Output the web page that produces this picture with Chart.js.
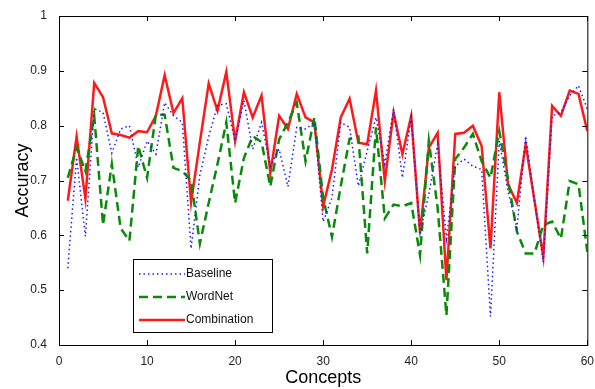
<!DOCTYPE html>
<html>
<head>
<meta charset="utf-8">
<script src="https://cdn.jsdelivr.net/npm/chart.js@4"></script>
<style>
  body { margin: 0; background: #fff; }
  #wrap { width: 595px; height: 389px; }
</style>
</head>
<body>
<div id="wrap"><canvas id="chart"></canvas></div>
<script>
// concept index on the x axis
const concepts = [1, 2, 3, 4, 5, 6, 7, 8, 9, 10, 11, 12, 13, 14, 15, 16, 17, 18, 19, 20,
  21, 22, 23, 24, 25, 26, 27, 28, 29, 30, 31, 32, 33, 34, 35, 36, 37, 38, 39, 40,
  41, 42, 43, 44, 45, 46, 47, 48, 49, 50, 51, 52, 53, 54, 55, 56, 57, 58, 59, 60];

const baseline = [0.54, 0.742, 0.598, 0.831, 0.824, 0.75, 0.794, 0.80, 0.724, 0.772,
  0.748, 0.842, 0.818, 0.806, 0.576, 0.71, 0.78, 0.837, 0.84, 0.772,
  0.846, 0.757, 0.806, 0.726, 0.757, 0.689, 0.797, 0.794, 0.806, 0.625,
  0.668, 0.806, 0.797, 0.69, 0.754, 0.815, 0.73, 0.83, 0.705, 0.815,
  0.604, 0.675, 0.766, 0.594, 0.726, 0.739, 0.726, 0.72, 0.452, 0.772,
  0.68, 0.613, 0.781, 0.663, 0.551, 0.818, 0.824, 0.855, 0.873, 0.83];

const wordnet = [0.705, 0.76, 0.717, 0.818, 0.619, 0.73, 0.613, 0.59, 0.763, 0.705,
  0.82, 0.82, 0.723, 0.717, 0.70, 0.585, 0.659, 0.73, 0.806, 0.659,
  0.741, 0.781, 0.77, 0.689, 0.775, 0.806, 0.842, 0.735, 0.815, 0.668,
  0.597, 0.69, 0.776, 0.78, 0.567, 0.797, 0.631, 0.656, 0.653, 0.659,
  0.564, 0.772, 0.65, 0.454, 0.739, 0.76, 0.785, 0.735, 0.705, 0.79,
  0.70, 0.607, 0.567, 0.567, 0.619, 0.625, 0.594, 0.699, 0.693, 0.57];

const combination = [0.663, 0.78, 0.667, 0.878, 0.852, 0.786, 0.783, 0.778, 0.79, 0.788,
  0.818, 0.892, 0.823, 0.85, 0.66, 0.77, 0.877, 0.827, 0.898, 0.772,
  0.861, 0.815, 0.855, 0.714, 0.818, 0.794, 0.858, 0.815, 0.806, 0.653,
  0.72, 0.815, 0.849, 0.769, 0.766, 0.864, 0.699, 0.824, 0.748, 0.818,
  0.604, 0.76, 0.787, 0.518, 0.785, 0.787, 0.80, 0.763, 0.576, 0.861,
  0.693, 0.659, 0.766, 0.663, 0.561, 0.836, 0.818, 0.864, 0.858, 0.79];

const xTicks = [0, 10, 20, 30, 40, 50, 60];
const yTicks = [0.4, 0.5, 0.6, 0.7, 0.8, 0.9, 1];

const toPoints = (vals) => concepts.map((c, i) => ({ x: c, y: vals[i] }));

// MATLAB style frame with inward ticks
const framePlugin = {
  id: "frame",
  afterDatasetsDraw(chart) {
    const { ctx, chartArea: a, scales } = chart;
    ctx.save();
    ctx.strokeStyle = "#000";
    ctx.lineWidth = 1;
    ctx.strokeRect(a.left + 0.5, a.top + 0.5, a.right - a.left, a.bottom - a.top);
    ctx.beginPath();
    xTicks.forEach((t) => {
      const px = Math.round(scales.x.getPixelForValue(t)) + 0.5;
      ctx.moveTo(px, a.bottom); ctx.lineTo(px, a.bottom - 5);
      ctx.moveTo(px, a.top); ctx.lineTo(px, a.top + 5);
    });
    yTicks.forEach((t) => {
      const py = Math.round(scales.y.getPixelForValue(t)) + 0.5;
      ctx.moveTo(a.left, py); ctx.lineTo(a.left + 5, py);
      ctx.moveTo(a.right, py); ctx.lineTo(a.right - 5, py);
    });
    ctx.stroke();

    // legend box
    const lx = 133, ly = 259, lw = 139, lh = 73;
    ctx.fillStyle = "#fff";
    ctx.fillRect(lx, ly, lw, lh);
    ctx.strokeRect(lx + 0.5, ly + 0.5, lw, lh);
    ctx.font = "12px 'Liberation Sans', Arial, sans-serif";
    ctx.textBaseline = "middle";
    chart.data.datasets.forEach((ds, i) => {
      const y = ly + 15 + i * 23;
      ctx.beginPath();
      ctx.strokeStyle = ds.borderColor;
      ctx.lineWidth = ds.borderWidth;
      ctx.setLineDash(ds.borderDash || []);
      ctx.moveTo(lx + 6, y); ctx.lineTo(lx + 52, y);
      ctx.stroke();
      ctx.setLineDash([]);
      ctx.fillStyle = "#111";
      ctx.fillText(ds.label, lx + 53, y);
    });
    ctx.restore();
  },
};

new Chart(document.getElementById("chart"), {
  type: "line",
  data: {
    datasets: [
      {
        label: "Baseline",
        data: toPoints(baseline),
        borderColor: "#1a1aff",
        borderWidth: 1.5,
        borderDash: [1.5, 3],
      },
      {
        label: "WordNet",
        data: toPoints(wordnet),
        borderColor: "#0a8a0a",
        borderWidth: 2.5,
        borderDash: [9, 5],
      },
      {
        label: "Combination",
        data: toPoints(combination),
        borderColor: "#ff1a1a",
        borderWidth: 2.5,
      },
    ],
  },
  options: {
    responsive: true,
    maintainAspectRatio: false,
    animation: false,
    elements: { point: { radius: 0 }, line: { tension: 0 } },
    layout: { padding: { top: 16, right: 7, left: 12, bottom: 0 } },
    plugins: { legend: { display: false }, tooltip: { enabled: false } },
    scales: {
      x: {
        type: "linear",
        min: 0,
        max: 60,
        afterBuildTicks: (s) => { s.ticks = xTicks.map((v) => ({ value: v })); },
        afterFit: (s) => { s.height = 44; },
        grid: { display: false },
        border: { display: false },
        ticks: {
          color: "#222",
          font: { family: "'Liberation Sans', Arial, sans-serif", size: 12 },
          padding: 1,
          maxRotation: 0,
        },
        title: {
          display: true,
          text: "Concepts",
          color: "#000",
          font: { family: "'Liberation Sans', Arial, sans-serif", size: 18 },
          padding: { top: 0, bottom: 0 },
        },
      },
      y: {
        min: 0.4,
        max: 1,
        afterBuildTicks: (s) => { s.ticks = yTicks.map((v) => ({ value: v })); },
        afterFit: (s) => { s.width = 47; },
        grid: { display: false },
        border: { display: false },
        ticks: {
          color: "#222",
          font: { family: "'Liberation Sans', Arial, sans-serif", size: 12 },
          padding: 4,
          callback: (v) => String(v),
        },
        title: {
          display: true,
          text: "Accuracy",
          color: "#000",
          font: { family: "'Liberation Sans', Arial, sans-serif", size: 18 },
          padding: { top: 0, bottom: 4 },
        },
      },
    },
  },
  plugins: [framePlugin],
});
</script>
</body>
</html>
